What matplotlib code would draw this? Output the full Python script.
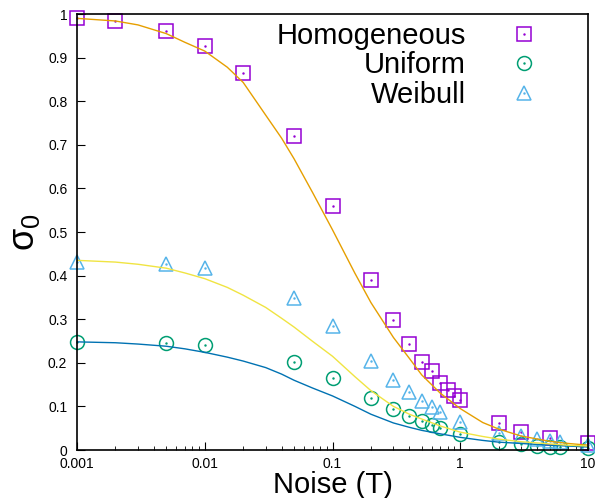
import matplotlib
matplotlib.use("Agg")
import matplotlib.pyplot as plt
import numpy as np

plt.rcParams['font.family'] = ['Liberation Sans', 'DejaVu Sans']
plt.rcParams['mathtext.fontset'] = 'custom'
plt.rcParams['mathtext.rm'] = 'Liberation Sans'
plt.rcParams['mathtext.it'] = 'Liberation Sans:italic'

# measured points
homo_x = [0.001, 0.002, 0.005, 0.01, 0.02, 0.05, 0.1, 0.2, 0.3, 0.4,
          0.5, 0.6, 0.7, 0.8, 0.9, 1, 2, 3, 5, 10]
homo_y = [0.99, 0.985, 0.961, 0.927, 0.865, 0.72, 0.56, 0.39, 0.298, 0.243,
          0.202, 0.181, 0.154, 0.138, 0.124, 0.115, 0.062, 0.041, 0.028, 0.016]

unif_x = [0.001, 0.005, 0.01, 0.05, 0.1, 0.2, 0.3, 0.4, 0.5, 0.6,
          0.7, 1, 2, 3, 4, 5, 6, 10]
unif_y = [0.248, 0.245, 0.24, 0.202, 0.165, 0.119, 0.094, 0.078, 0.067, 0.057,
          0.05, 0.037, 0.019, 0.014, 0.01, 0.008, 0.006, 0.005]

weib_x = [0.001, 0.005, 0.01, 0.05, 0.1, 0.2, 0.3, 0.4, 0.5, 0.6,
          0.7, 1, 2, 3, 4, 5, 6, 10]
weib_y = [0.431, 0.427, 0.417, 0.348, 0.284, 0.205, 0.16, 0.132, 0.112, 0.098,
          0.087, 0.065, 0.039, 0.031, 0.025, 0.021, 0.019, 0.012]

# fitted curves
fit_x = [0.001, 0.002, 0.003, 0.005, 0.007, 0.01, 0.015, 0.02, 0.03, 0.04, 0.05,
         0.07, 0.1, 0.15, 0.2, 0.3, 0.4, 0.5, 0.7, 1, 1.5, 2, 3, 5, 7, 10]
fit_homo = [0.99, 0.984, 0.975, 0.955, 0.935, 0.915, 0.878, 0.843, 0.768, 0.715, 0.668,
            0.59, 0.505, 0.405, 0.338, 0.258, 0.21, 0.172, 0.13, 0.095, 0.063, 0.048,
            0.032, 0.02, 0.015, 0.011]
fit_unif = [0.248, 0.246, 0.243, 0.238, 0.232, 0.224, 0.213, 0.204, 0.189, 0.174, 0.16,
            0.142, 0.124, 0.1, 0.082, 0.062, 0.052, 0.045, 0.037, 0.029, 0.022, 0.018,
            0.015, 0.011, 0.009, 0.007]
fit_weib = [0.435, 0.431, 0.426, 0.417, 0.406, 0.393, 0.373, 0.355, 0.327, 0.302, 0.282,
            0.249, 0.215, 0.168, 0.136, 0.1, 0.082, 0.071, 0.055, 0.041, 0.031, 0.025,
            0.019, 0.014, 0.011, 0.009]

labels = ['Homogeneous', 'Uniform', 'Weibull']
pt_colors = ['#9400D3', '#009E73', '#56B4E9']
line_colors = ['#E69F00', '#0072B2', '#F0E442']

fig = plt.figure(figsize=(5.95, 4.98), dpi=100)
ax = fig.add_axes([77/595, 48/498, 511/595, 436/498])

handles = []
series = [(homo_x, homo_y, 's', 9.5), (unif_x, unif_y, 'o', 10), (weib_x, weib_y, '^', 10)]
for (xs, ys, mk, ms), c in zip(series, pt_colors):
    h1, = ax.plot(xs, ys, ls='none', marker=mk, ms=ms, mfc='none', mec=c, mew=1.1, clip_on=False)
    h2, = ax.plot(xs, ys, ls='none', marker='.', ms=1.5, color=c, clip_on=False)
    handles.append((h1, h2))

for ys, c in zip([fit_homo, fit_unif, fit_weib], line_colors):
    ax.plot(fit_x, ys, color=c, lw=1.0)

ax.set_xscale('log')
ax.set_xlim(0.001, 10)
ax.set_ylim(0, 1)
ax.set_xticks([0.001, 0.01, 0.1, 1, 10])
ax.set_xticklabels(['0.001', '0.01', '0.1', '1', '10'])
ax.set_yticks(np.arange(0, 1.01, 0.1))
ax.set_yticklabels(['0', '0.1', '0.2', '0.3', '0.4', '0.5', '0.6', '0.7', '0.8', '0.9', '1'])
ax.tick_params(axis='both', which='both', direction='in', top=False, right=False,
               labelsize=10, colors='black')
ax.tick_params(axis='x', which='major', length=6, pad=5)
ax.tick_params(axis='x', which='minor', length=3)
ax.tick_params(axis='y', which='major', length=6, pad=7)
for sp in ax.spines.values():
    sp.set_linewidth(1.2)

ax.set_xlabel('Noise (T)', fontsize=21, labelpad=0)
ax.set_ylabel(r'$\mathrm{\sigma}_0$', fontsize=26, labelpad=4)

ax.legend(handles, labels, loc='upper right', bbox_to_anchor=(0.904, 0.982),
          frameon=False, markerfirst=False, fontsize=21, handlelength=1.0,
          handletextpad=1.5, labelspacing=0.05, borderpad=0, borderaxespad=0,
          numpoints=1)

fig.savefig('out.png', dpi=100)
